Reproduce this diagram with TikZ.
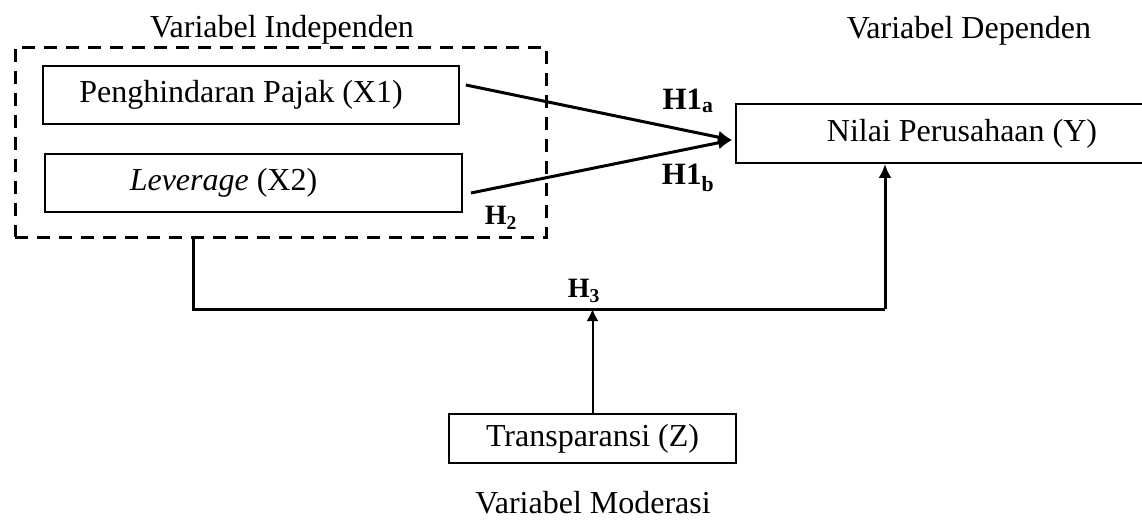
\documentclass[tikz,border=0pt]{standalone}
\usepackage{fontspec}
\setmainfont{Liberation Serif}
\usetikzlibrary{arrows.meta, positioning, calc}
\tikzset{
    varbox/.style={rectangle, draw, line width=1.8pt, minimum height=58pt, inner sep=0pt},
    groupbox/.style={rectangle, draw, line width=3pt, dash pattern=on 13pt off 9pt, inner sep=0pt},
    arrow/.style={-{Latex[length=14pt,width=13pt]}, line width=3pt},
    thinarrow/.style={-{Latex[length=12pt,width=12pt]}, line width=2pt},
    link/.style={line width=3pt},
    hlabel/.style={font=\bfseries\fontsize{31}{34}\selectfont},
    hsmall/.style={font=\bfseries\fontsize{28}{32}\selectfont},
    caption/.style={anchor=base},
}

\begin{document}
\begin{tikzpicture}[x=1pt, y=-1pt, font=\fontsize{32}{38}\selectfont]
    \useasboundingbox (0,0) rectangle (1142,520);

    % independent variables
    \node[groupbox, minimum width=531pt, minimum height=190pt] (indep) at (280.5,142) {};
    \node[varbox, minimum width=416pt] (x1) at (251,95) {Penghindaran Pajak (X1)\hspace*{20pt}};
    \node[varbox, minimum width=417pt] (x2) at (253.5,183) {\raisebox{6pt}{\textit{Leverage} (X2)}\hspace*{60pt}};

    % dependent and moderating variables
    \node[varbox, minimum width=452pt, minimum height=59pt] (y) at (962,133.5) {Nilai Perusahaan (Y)};
    \node[varbox, minimum width=287pt, minimum height=49pt] (z) at (592.5,438.5) {Transparansi (Z)};

    \node[caption] (capindep) at (282,37) {Variabel Independen};
    \node[caption] (capdep) at (969,38) {Variabel Dependen};
    \node[caption] (capmod) at (593,513) {Variabel Moderasi};

    \coordinate (meet) at ($(y.west)+(-3,6.5)$);
    \coordinate (joinL) at (193,309);
    \coordinate (joinR) at (885,309);

    \draw[arrow] ($(x1.east)+(6,-10)$) -- (meet);
    \draw[arrow] ($(x2.east)+(8,10)$) -- (meet);
    \draw[link] (indep.south -| joinL) |- (joinR);
    \draw[arrow] (joinR) -- (joinR |- y.south);
    \draw[thinarrow] (z.north) -- (z.north |- joinL);

    \node[hlabel] (h1a) at (688,101) {H1\textsubscript{a}};
    \node[hlabel] (h1b) at (688,178) {H1\textsubscript{b}};
    \node[hsmall] (h2) at (501,218) {H\textsubscript{2}};
    \node[hsmall] (h3) at (584,291) {H\textsubscript{3}};
\end{tikzpicture}
\end{document}
